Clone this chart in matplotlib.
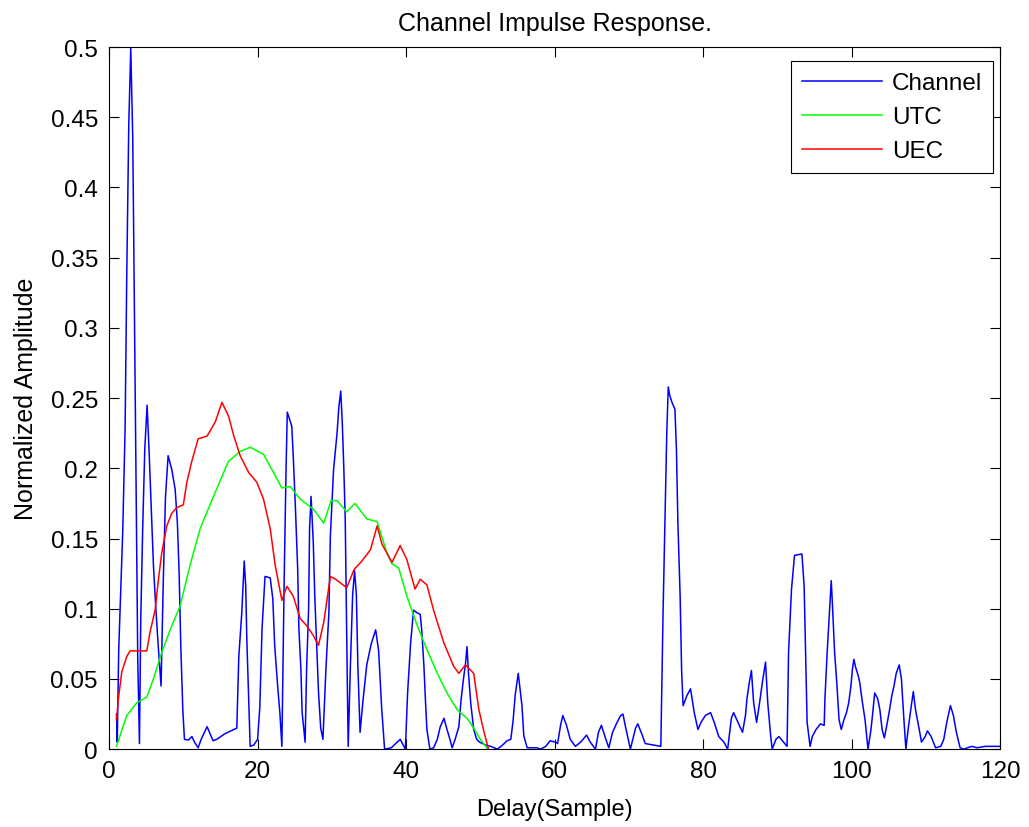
import matplotlib
matplotlib.use("Agg")
import matplotlib.pyplot as plt
from matplotlib.ticker import FuncFormatter

plt.rcParams['font.family'] = ['Liberation Sans', 'DejaVu Sans']

# channel impulse response (vertices)
ch_delay = [1.0, 1.1, 1.3, 1.57, 1.84, 2.16, 2.38, 2.65, 2.92, 3.19, 3.41, 3.64, 3.86, 4.09,
            4.27, 4.54, 4.81, 5.12, 5.39, 5.66, 5.98, 6.3, 6.6, 7.0, 7.3, 7.6, 7.95, 8.45,
            8.9, 9.2, 9.43, 9.66, 9.93, 10.15, 10.7, 11.15, 11.5, 12.0, 12.4, 13.2, 14.0,
            14.5, 15.6, 16.8, 17.2, 17.47, 17.87, 18.2, 18.4, 18.55, 18.78, 19.0, 19.5,
            20.0, 20.3, 20.6, 21.0, 21.7, 22.05, 22.3, 22.7, 23.0, 23.27, 23.58, 23.85,
            24.0, 24.3, 24.6, 24.8, 25.1, 25.4, 25.56, 25.83, 26.0, 26.4, 26.6, 26.87, 27.0,
            27.2, 27.5, 27.7, 28.0, 28.2, 28.5, 28.8, 29.2, 29.6, 29.8, 30.23, 30.7, 30.95,
            31.2, 31.4, 31.6, 31.8, 31.95, 32.1, 32.2, 32.5, 32.8, 33.06, 33.3, 33.5, 33.8,
            34.2, 34.7, 35.3, 35.9, 36.3, 36.7, 37.1, 38.0, 39.2, 39.9, 40.2, 40.6, 41.0,
            41.5, 41.9, 42.1, 42.4, 42.6, 42.8, 43.2, 43.7, 44.2, 44.6, 45.1, 45.4, 45.9,
            46.2, 46.6, 47.1, 47.4, 47.7, 48.0, 48.2, 48.4, 48.7, 49.1, 49.5, 49.9, 50.7,
            51.4, 52.3, 53.0, 53.6, 54.1, 54.4, 54.7, 55.1, 55.3, 55.6, 55.85, 56.3, 57.6,
            58.1, 58.8, 59.4, 60.1, 60.4, 60.8, 61.1, 61.6, 62.1, 62.8, 63.5, 64.3, 64.8,
            65.5, 65.9, 66.3, 66.9, 67.3, 67.8, 68.4, 68.9, 69.2, 69.5, 70.2, 70.9, 71.2,
            71.8, 72.2, 74.3, 74.4, 74.6, 74.85, 75.1, 75.3, 75.5, 75.8, 76.2, 76.4, 76.6,
            76.9, 77.1, 77.3, 77.8, 78.3, 78.5, 78.8, 79.3, 79.7, 80.3, 81.0, 81.5, 82.1,
            82.8, 83.3, 83.8, 84.1, 84.7, 85.3, 85.7, 85.9, 86.2, 86.5, 86.8, 87.2, 87.6,
            87.96, 88.4, 88.7, 89.1, 89.3, 89.8, 90.2, 91.3, 91.5, 91.9, 92.3, 93.3, 93.6,
            93.8, 94.0, 94.4, 94.7, 95.2, 95.8, 96.3, 96.4, 96.7, 97.07, 97.25, 97.4, 97.7,
            98.0, 98.3, 98.6, 98.96, 99.3, 99.6, 99.9, 100.1, 100.3, 100.5, 100.9, 101.1,
            101.4, 101.8, 102.2, 102.6, 102.8, 103.1, 103.5, 103.8, 104.1, 104.4, 104.8,
            105.1, 105.4, 105.7, 106.0, 106.4, 106.7, 107.0, 107.3, 107.6, 107.9, 108.3,
            108.6, 109.1, 109.4, 109.9, 110.2, 110.7, 111.3, 112.0, 112.4, 112.8, 113.3,
            113.7, 114.1, 114.6, 115.1, 115.6, 116.2, 116.9, 118.0, 119.6, 120.0]
ch_amp = [0.025, 0.005, 0.071, 0.112, 0.155, 0.229, 0.337, 0.444, 0.499, 0.435, 0.312, 0.19,
          0.065, 0.004, 0.094, 0.16, 0.214, 0.245, 0.212, 0.175, 0.13, 0.1, 0.075, 0.045,
          0.12, 0.18, 0.209, 0.199, 0.185, 0.161, 0.126, 0.073, 0.028, 0.007, 0.0065,
          0.009, 0.005, 0.001, 0.007, 0.016, 0.006, 0.007, 0.011, 0.014, 0.015, 0.066,
          0.097, 0.134, 0.116, 0.078, 0.038, 0.002, 0.003, 0.007, 0.03, 0.086, 0.123,
          0.122, 0.107, 0.074, 0.045, 0.026, 0.002, 0.121, 0.204, 0.240, 0.235, 0.23,
          0.209, 0.171, 0.128, 0.086, 0.057, 0.026, 0.005, 0.057, 0.1, 0.157, 0.18, 0.147,
          0.109, 0.069, 0.041, 0.015, 0.007, 0.057, 0.097, 0.152, 0.199, 0.225, 0.244,
          0.255, 0.233, 0.202, 0.164, 0.1, 0.04, 0.002, 0.06, 0.11, 0.127, 0.11, 0.06,
          0.012, 0.035, 0.06, 0.075, 0.085, 0.07, 0.03, 0.0, 0.001, 0.007, 0.0, 0.04,
          0.075, 0.099, 0.097, 0.096, 0.085, 0.059, 0.035, 0.014, 0.0, 0.001, 0.007,
          0.016, 0.022, 0.016, 0.007, 0.001, 0.007, 0.016, 0.035, 0.049, 0.061, 0.073,
          0.054, 0.033, 0.014, 0.007, 0.005, 0.003, 0.002, 0.0, 0.003, 0.006, 0.007, 0.02,
          0.039, 0.054, 0.045, 0.031, 0.0095, 0.001, 0.001, 0.0, 0.002, 0.006, 0.005,
          0.004, 0.017, 0.024, 0.017, 0.007, 0.002, 0.005, 0.010, 0.005, 0.0, 0.012,
          0.017, 0.007, 0.001, 0.012, 0.019, 0.024, 0.025, 0.017, 0.0, 0.015, 0.018,
          0.010, 0.004, 0.002, 0.033, 0.097, 0.161, 0.225, 0.258, 0.252, 0.247, 0.242,
          0.214, 0.161, 0.109, 0.056, 0.031, 0.038, 0.043, 0.036, 0.026, 0.014, 0.019,
          0.024, 0.026, 0.019, 0.009, 0.005, 0.0, 0.022, 0.026, 0.019, 0.012, 0.024,
          0.036, 0.047, 0.056, 0.033, 0.019, 0.033, 0.047, 0.062, 0.033, 0.009, 0.0,
          0.007, 0.009, 0.002, 0.069, 0.114, 0.138, 0.139, 0.116, 0.069, 0.019, 0.002,
          0.009, 0.014, 0.018, 0.017, 0.036, 0.069, 0.103, 0.12, 0.104, 0.069, 0.047,
          0.021, 0.014, 0.021, 0.026, 0.033, 0.045, 0.057, 0.064, 0.059, 0.052, 0.047,
          0.035, 0.021, 0.0, 0.014, 0.024, 0.04, 0.036, 0.028, 0.014, 0.008, 0.019, 0.028,
          0.038, 0.045, 0.054, 0.06, 0.05, 0.024, 0.0, 0.014, 0.026, 0.041, 0.028, 0.014,
          0.005, 0.009, 0.013, 0.009, 0.001, 0.002, 0.007, 0.019, 0.031, 0.024, 0.012,
          0.001, 0.0, 0.001, 0.002, 0.001, 0.002, 0.002, 0.002]

# UTC estimate
utc_delay = [1.0, 2.38, 3.73, 5.08, 5.97, 7.1, 8.3, 9.57, 10.9, 12.26, 14.06, 16.08, 17.65,
             19.0, 20.8, 22.15, 23.27, 24.4, 25.74, 27.5, 28.9, 29.9, 30.7, 32.0, 33.1,
             34.7, 36.1, 37.4, 38.1, 39.0, 40.1, 41.5, 42.8, 44.2, 45.5, 46.9, 48.2, 49.1,
             50.0, 51.0]
utc_amp = [0.002, 0.024, 0.033, 0.037, 0.050, 0.069, 0.086, 0.102, 0.131, 0.157, 0.180,
           0.205, 0.212, 0.215, 0.210, 0.197, 0.186, 0.187, 0.178, 0.171, 0.161, 0.177,
           0.177, 0.169, 0.175, 0.164, 0.162, 0.140, 0.132, 0.129, 0.109, 0.088, 0.071,
           0.054, 0.040, 0.028, 0.022, 0.015, 0.007, 0.0]

# UEC estimate
uec_delay = [1.0, 1.26, 1.71, 2.38, 2.83, 5.08, 5.5, 6.2, 6.65, 7.1, 7.77, 8.45, 9.12, 10.0,
             10.47, 11.14, 12.0, 13.2, 14.3, 15.2, 16.1, 16.8, 17.65, 18.8, 19.9, 20.8,
             21.7, 22.37, 23.27, 23.95, 24.8, 25.74, 26.6, 27.5, 28.2, 28.9, 29.8, 30.5,
             32.0, 33.0, 34.05, 35.2, 36.1, 36.75, 38.1, 39.2, 40.1, 41.2, 41.9, 42.8,
             43.7, 45.06, 46.4, 47.1, 48.0, 49.1, 49.8, 50.5, 51.1]
uec_amp = [0.021, 0.036, 0.055, 0.066, 0.070, 0.070, 0.083, 0.099, 0.121, 0.140, 0.159,
           0.168, 0.172, 0.174, 0.190, 0.205, 0.221, 0.223, 0.233, 0.247, 0.237, 0.223,
           0.209, 0.197, 0.190, 0.178, 0.157, 0.131, 0.106, 0.116, 0.109, 0.093, 0.088,
           0.081, 0.074, 0.090, 0.123, 0.121, 0.115, 0.128, 0.134, 0.142, 0.159, 0.146,
           0.133, 0.145, 0.135, 0.114, 0.121, 0.117, 0.099, 0.076, 0.059, 0.054, 0.060,
           0.054, 0.028, 0.012, 0.0]

x_ticks = [0, 20, 40, 60, 80, 100, 120]
y_ticks = [0, 0.05, 0.1, 0.15, 0.2, 0.25, 0.3, 0.35, 0.4, 0.45, 0.5]

fig = plt.figure(figsize=(10.29, 8.28), dpi=100)
ax = fig.add_axes([0.106, 0.094, 0.866, 0.848])

ax.plot(ch_delay, ch_amp, color=(0, 0, 1), lw=1.1, label="Channel")
ax.plot(utc_delay, utc_amp, color=(0, 1, 0), lw=1.1, label="UTC")
ax.plot(uec_delay, uec_amp, color=(1, 0, 0), lw=1.1, label="UEC")

ax.set_xlim(0, 120)
ax.set_ylim(0, 0.5)
ax.set_xticks(x_ticks)
ax.set_yticks(y_ticks)
ax.yaxis.set_major_formatter(FuncFormatter(lambda v, p: "%g" % v))
ax.tick_params(direction="in", length=7, width=0.8, top=True, right=True,
               labelsize=17.5, pad=8)
for s in ax.spines.values():
    s.set_linewidth(0.8)

ax.set_title("Channel Impulse Response.", fontsize=18, pad=12)
ax.set_xlabel("Delay(Sample)", fontsize=17, labelpad=11)
ax.set_ylabel("Normalized Amplitude", fontsize=18, labelpad=9)

leg = ax.legend(loc="upper right", bbox_to_anchor=(0.992, 0.98), borderaxespad=0,
                fontsize=17.5, fancybox=False, framealpha=1, edgecolor="black",
                handlelength=3.3, labelspacing=0.5, handletextpad=0.4,
                borderpad=0.45)
leg.get_frame().set_linewidth(0.8)

plt.savefig("out.png", dpi=100)
